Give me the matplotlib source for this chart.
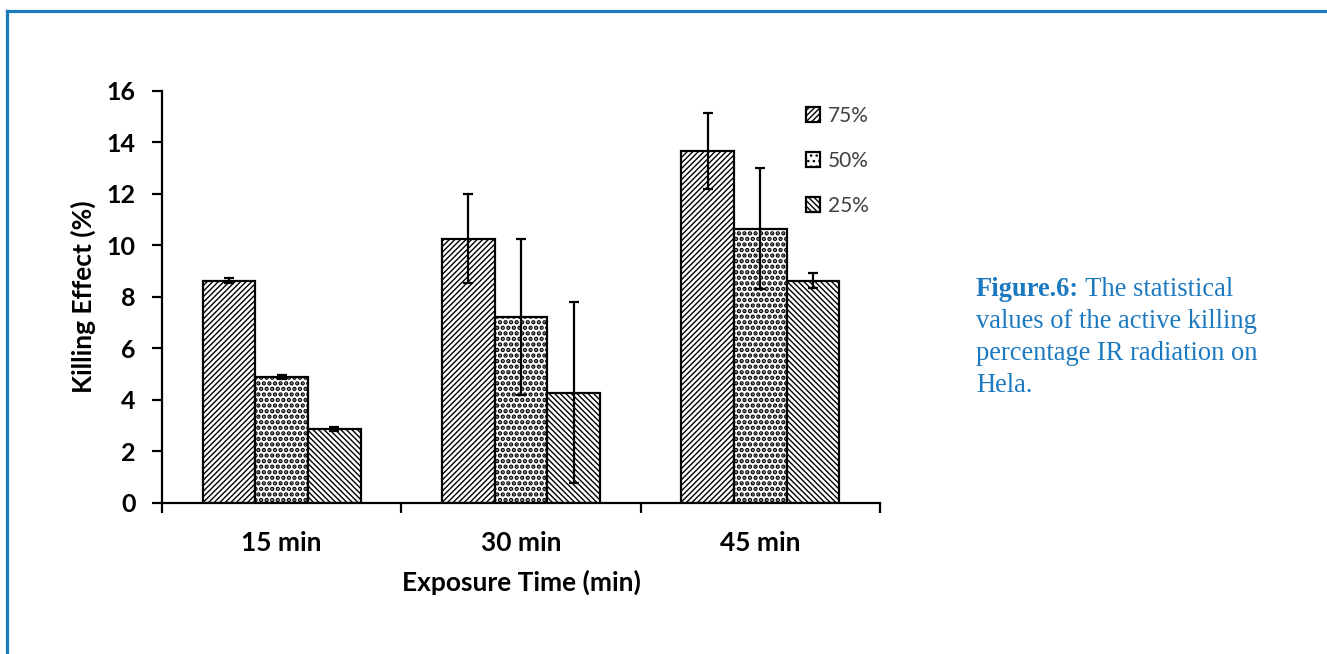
import matplotlib.pyplot as plt
from matplotlib.lines import Line2D
import numpy as np

# killing effect (%) per exposure time, for each concentration
times = ['15 min', '30 min', '45 min']
conc_labels = ['75%', '50%', '25%']
kill_75 = [8.64, 10.27, 13.66]
kill_50 = [4.90, 7.24, 10.65]
kill_25 = [2.88, 4.28, 8.64]
err_75 = [0.08, 1.73, 1.48]
err_50 = [0.08, 3.03, 2.35]
err_25 = [0.08, 3.52, 0.30]

means = [kill_75, kill_50, kill_25]
errs = [err_75, err_50, err_25]
hatches = ['//////', '...', '\\\\\\\\\\\\']
hatch_lw = [1.0, 2.2, 1.0]

blue = '#1b79c0'

fig = plt.figure(figsize=(13.27, 6.54), dpi=100)
ax = fig.add_axes([0.1221, 0.2309, 0.5410, 0.6300])

x = np.arange(len(times))
w = 0.22
for i in range(3):
    with plt.rc_context({'hatch.linewidth': hatch_lw[i]}):
        bars = ax.bar(x + (i - 1) * w, means[i], width=w, color='white',
                      edgecolor='black', linewidth=1.6, hatch=hatches[i],
                      label=conc_labels[i], zorder=2)
    for b in bars:
        if hasattr(b, 'set_hatch_linewidth'):
            b.set_hatch_linewidth(hatch_lw[i])
    ax.errorbar(x + (i - 1) * w, means[i], yerr=errs[i], fmt='none', ecolor='black',
                elinewidth=1.6, capsize=3.8, capthick=1.6, zorder=3)

ax.set_xlim(-0.5, 2.5)
ax.set_ylim(0, 16)
ax.set_yticks(np.arange(0, 17, 2))

# boundary ticks between groups, labels at group centres
ax.set_xticks([-0.5, 0.5, 1.5, 2.5])
ax.set_xticklabels([])
ax.set_xticks(x, minor=True)
ax.set_xticklabels(times, minor=True)
ax.tick_params(axis='x', which='minor', length=0, pad=20)
ax.tick_params(axis='x', which='major', direction='out', length=7, width=1.6)
ax.tick_params(axis='y', direction='out', length=7, width=1.6, pad=12)

for lab in ax.get_xticklabels(minor=True):
    lab.set_fontfamily('Lato')
    lab.set_fontweight('bold')
    lab.set_fontsize(19)
for lab in ax.get_yticklabels():
    lab.set_fontfamily('Lato')
    lab.set_fontweight('bold')
    lab.set_fontsize(18)

ax.spines['top'].set_visible(False)
ax.spines['right'].set_visible(False)
ax.spines['left'].set_linewidth(1.6)
ax.spines['bottom'].set_linewidth(1.6)

ax.set_xlabel('Exposure Time (min)', fontfamily='Lato', fontweight='bold',
              fontsize=19, labelpad=11)
ax.set_ylabel('Killing Effect (%)', fontfamily='Lato', fontweight='bold',
              fontsize=19, labelpad=8)

leg = ax.legend(loc='upper left', bbox_to_anchor=(0.882, 0.99), frameon=False,
                handlelength=0.7, handleheight=0.7, handletextpad=0.35,
                labelspacing=1.2, borderpad=0,
                prop={'family': 'Lato', 'size': 15})
for t in leg.get_texts():
    t.set_color('#404040')

# blue frame along the top and left edges
fig.add_artist(Line2D([7 / 1327, 1], [1 - 10.5 / 654] * 2, color=blue, lw=2.3,
                      transform=fig.transFigure))
fig.add_artist(Line2D([7 / 1327] * 2, [0, 1 - 10.5 / 654], color=blue, lw=2.3,
                      transform=fig.transFigure))

# caption
cx = 976 / 1327
serif = 'Liberation Serif'
csize = 19.1
t1 = fig.text(cx, 1 - 296 / 654, 'Figure.6:', fontfamily=serif, fontweight='bold',
              fontsize=csize, color=blue, va='baseline', ha='left')
fig.canvas.draw()
bb = t1.get_window_extent()
fig.text(bb.x1 / fig.bbox.width, 1 - 296 / 654, ' The statistical', fontfamily=serif,
         fontsize=csize, color=blue, va='baseline', ha='left')
caption_rest = ['values of the active killing', 'percentage IR radiation on', 'Hela.']
for k, line in enumerate(caption_rest):
    fig.text(cx, 1 - (328 + 32 * k) / 654, line, fontfamily=serif, fontsize=csize,
             color=blue, va='baseline', ha='left')

fig.savefig('out.png', dpi=100)
